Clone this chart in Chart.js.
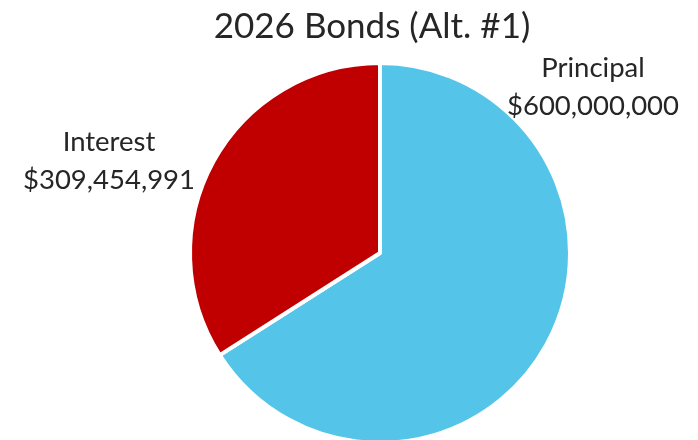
<!DOCTYPE html>
<html>
<head>
<meta charset="utf-8">
<script src="https://cdn.jsdelivr.net/npm/chart.js@4"></script>
<style>
  html, body { margin: 0; padding: 0; background: #fff; overflow: hidden; }
  .chartBox { width: 698px; height: 460px; }
</style>
</head>
<body>
<div class="chartBox"><canvas id="pie" width="698" height="460"></canvas></div>
<script>
const title = "2026 Bonds (Alt. #1)"
const categories = ["Principal", "Interest"]
const amounts = [600000000, 309454991]
const colors = ["#54C5E8", "#C00000"]

// where each slice's label block sits (centre of the two lines)
const labelSpots = [
  { x: 593, y: 87 },
  { x: 109, y: 161 },
]

const fmt = v => "$" + v.toLocaleString("en-US")

const textPlugin = {
  id: "textPlugin",
  afterDraw(chart) {
    const ctx = chart.ctx
    ctx.save()
    ctx.fillStyle = "#262626"
    ctx.textAlign = "center"
    ctx.textBaseline = "middle"
    ctx.font = "35px Lato"
    ctx.fillText(title, 372, 27)
    ctx.font = "27.5px Lato"
    categories.forEach((c, i) => {
      const p = labelSpots[i]
      ctx.fillText(c, p.x, p.y - 19)
      ctx.fillText(fmt(amounts[i]), p.x, p.y + 19)
    })
    ctx.restore()
  },
}

new Chart(document.getElementById("pie"), {
  type: "pie",
  data: {
    labels: categories,
    datasets: [
      {
        data: amounts,
        backgroundColor: colors,
        borderColor: "#ffffff",
        borderWidth: 4,
      },
    ],
  },
  options: {
    responsive: false,
    animation: false,
    layout: { padding: { top: 61, left: 188, right: 126, bottom: 15 } },
    plugins: {
      legend: { display: false },
      tooltip: { enabled: false },
    },
  },
  plugins: [textPlugin],
})
</script>
</body>
</html>
